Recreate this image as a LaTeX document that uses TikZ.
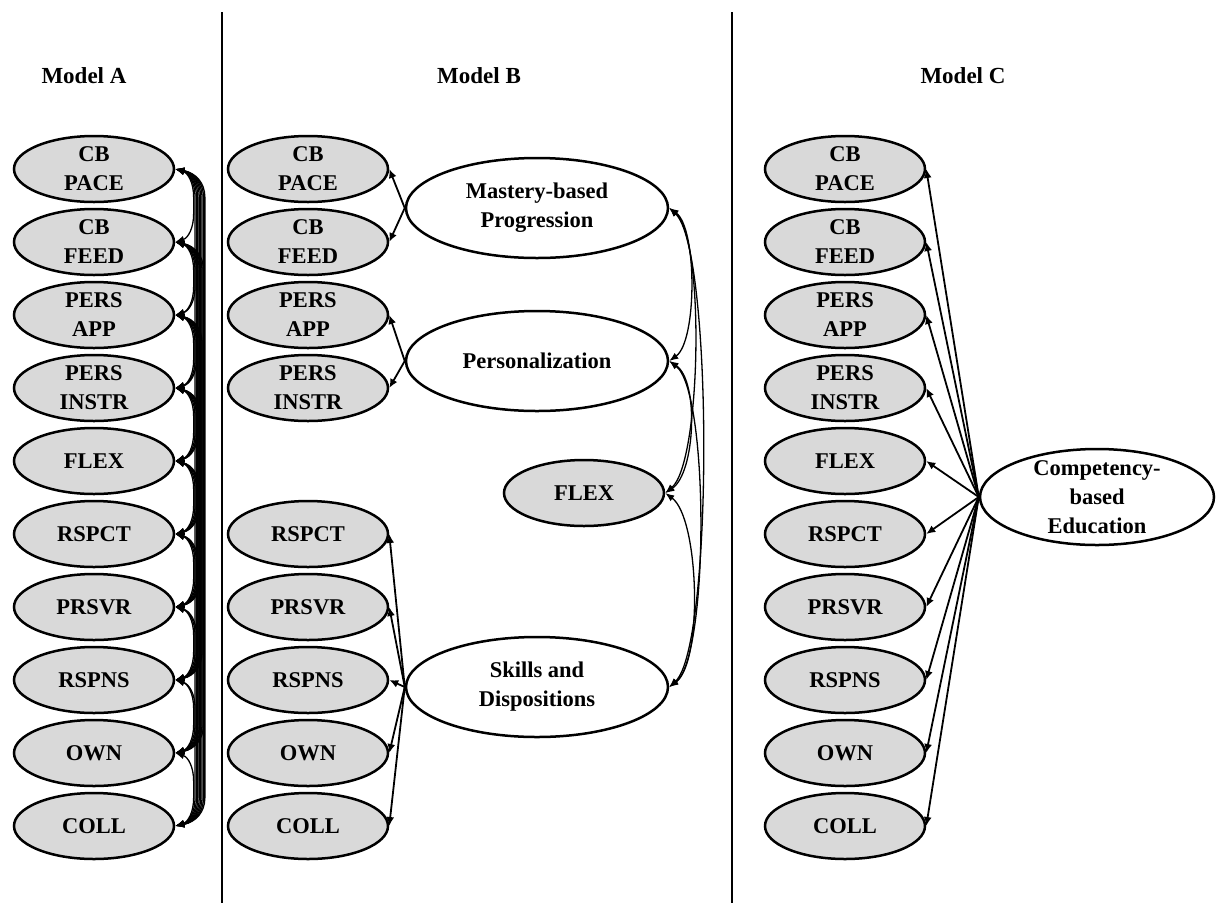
\documentclass[tikz,border=0pt]{standalone}
\usepackage{fontspec}
\setmainfont{Liberation Serif}
\usetikzlibrary{shapes.geometric,arrows.meta,calc}
\definecolor{indfill}{RGB}{217,217,217}
\begin{document}
\begin{tikzpicture}[x=1pt,y=-1pt,
  lbl/.style={font=\fontsize{22.5}{29}\selectfont\bfseries, align=center},
  ind/.style={lbl, ellipse, draw, line width=2.5pt, fill=indfill,
    minimum width=160pt, minimum height=66pt, inner xsep=0pt, inner ysep=-8pt},
  lat/.style={lbl, ellipse, draw, line width=2.5pt, fill=white,
    minimum width=262pt, minimum height=100pt, inner xsep=0pt, inner ysep=-8pt},
  title/.style={font=\fontsize{23}{27}\selectfont\bfseries},
  arr/.style={line width=1.8pt, -{Latex[length=9pt,width=8pt]}},
  cov/.style={line width=1.3pt, {Latex[length=9pt,width=7pt]}-{Latex[length=9pt,width=7pt]}},
  sep/.style={line width=1.8pt}]
\useasboundingbox (0,0) rectangle (1221,903);

% separators
\draw[sep] (222,12) -- (222,903);
\draw[sep] (732,12) -- (732,903);

% titles
\node[title] (tA) at (84,76) {Model A};
\node[title] (tB) at (479,76) {Model B};
\node[title] (tC) at (963,76) {Model C};

% ===== Model A =====
\node[ind] (A1)  at (94,169) {CB\\PACE};
\node[ind] (A2)  at (94,242) {CB\\FEED};
\node[ind] (A3)  at (94,315) {PERS\\APP};
\node[ind] (A4)  at (94,388) {PERS\\INSTR};
\node[ind] (A5)  at (94,461) {FLEX};
\node[ind] (A6)  at (94,534) {RSPCT};
\node[ind] (A7)  at (94,607) {PRSVR};
\node[ind] (A8)  at (94,680) {RSPNS};
\node[ind] (A9)  at (94,753) {OWN};
\node[ind] (A10) at (94,826) {COLL};
\foreach \i in {1,...,9}{
  \pgfmathtruncatemacro\ii{\i+1}
  \foreach \j in {\ii,...,10}{
    \pgfmathsetmacro\dx{17+1.4*(\j-\i)}
    \draw[cov] (A\i.east) .. controls +(\dx*0.7,4) and +(0,-14) .. ++(\dx,28)
      -- ($(A\j.east)+(\dx,-28)$) .. controls +(0,14) and +(\dx*0.7,-4) .. (A\j.east);
  }
}

% ===== Model B =====
\node[ind] (B1)  at (308,169) {CB\\PACE};
\node[ind] (B2)  at (308,242) {CB\\FEED};
\node[ind] (B3)  at (308,315) {PERS\\APP};
\node[ind] (B4)  at (308,388) {PERS\\INSTR};
\node[ind] (B6)  at (308,534) {RSPCT};
\node[ind] (B7)  at (308,607) {PRSVR};
\node[ind] (B8)  at (308,680) {RSPNS};
\node[ind] (B9)  at (308,753) {OWN};
\node[ind] (B10) at (308,826) {COLL};
\node[ind] (BF)  at (584,493) {FLEX};
\node[lat] (M) at (537,208) {Mastery-based\\Progression};
\node[lat] (P) at (537,361) {Personalization};
\node[lat] (S) at (537,687) {Skills and\\Dispositions};

\draw[arr] (M.west) -- (B1.east);
\draw[arr] (M.west) -- (B2.east);
\draw[arr] (P.west) -- (B3.east);
\draw[arr] (P.west) -- (B4.east);
\foreach \k in {6,...,10}{\draw[arr] (S.west) -- (B\k.east);}

\draw[cov] (M.east) .. controls +(28,20) and +(28,-20) .. (P.east);
\draw[cov] (M.east) .. controls +(36,30) and +(36,-30) .. (BF.east);
\draw[cov] (M.east) .. controls +(44,40) and +(44,-40) .. (S.east);
\draw[cov] (P.east) .. controls +(30,20) and +(30,-20) .. (BF.east);
\draw[cov] (P.east) .. controls +(40,30) and +(40,-30) .. (S.east);
\draw[cov] (BF.east) .. controls +(34,25) and +(34,-25) .. (S.east);

% ===== Model C =====
\node[ind] (C1)  at (845,169) {CB\\PACE};
\node[ind] (C2)  at (845,242) {CB\\FEED};
\node[ind] (C3)  at (845,315) {PERS\\APP};
\node[ind] (C4)  at (845,388) {PERS\\INSTR};
\node[ind] (C5)  at (845,461) {FLEX};
\node[ind] (C6)  at (845,534) {RSPCT};
\node[ind] (C7)  at (845,607) {PRSVR};
\node[ind] (C8)  at (845,680) {RSPNS};
\node[ind] (C9)  at (845,753) {OWN};
\node[ind] (C10) at (845,826) {COLL};
\node[lat, minimum width=234pt, minimum height=96pt, inner ysep=-12pt] (CBE) at (1097,497) {Competency-\\based\\Education};
\foreach \k in {1,...,10}{\draw[arr] (CBE.west) -- (C\k.east);}
\end{tikzpicture}
\end{document}
